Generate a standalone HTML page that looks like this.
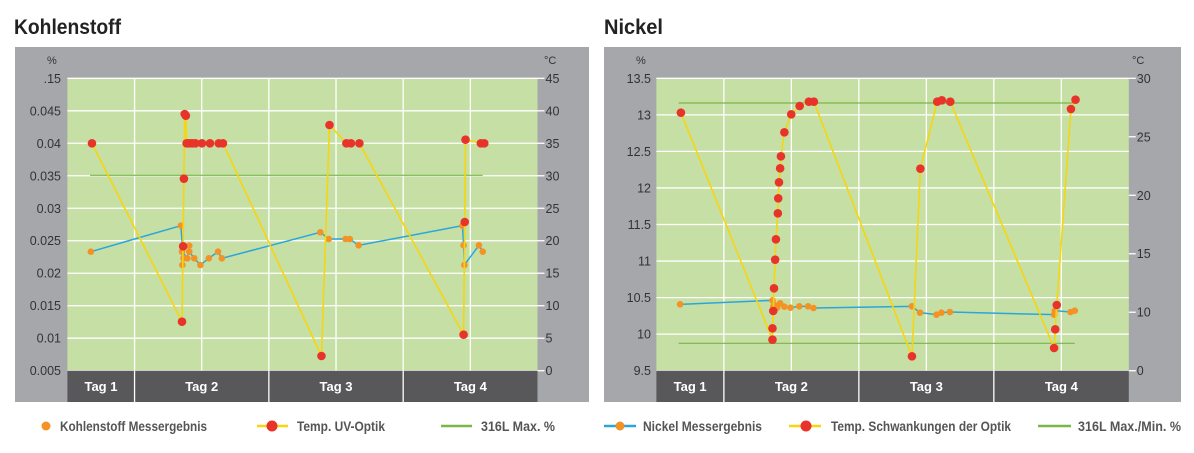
<!DOCTYPE html>
<html><head><meta charset="utf-8"><style>
html,body{margin:0;padding:0;background:#fff;width:1194px;height:453px;overflow:hidden}
svg{display:block;font-family:"Liberation Sans Narrow","Liberation Sans",sans-serif}
</style></head><body>
<svg id="s" width="1194" height="453" viewBox="0 0 1194 453" xmlns="http://www.w3.org/2000/svg">
<text x="14" y="34" font-size="21" font-weight="bold" fill="#222" textLength="107" lengthAdjust="spacingAndGlyphs">Kohlenstoff</text>
<text x="604" y="34" font-size="21" font-weight="bold" fill="#222" textLength="59" lengthAdjust="spacingAndGlyphs">Nickel</text>
</svg>
<script>
var S=document.getElementById('s'),NS='http://www.w3.org/2000/svg';
function el(t,a,txt){var e=document.createElementNS(NS,t);for(var k in a)e.setAttribute(k,a[k]);if(txt!=null)e.textContent=txt;S.appendChild(e);return e;}
function chart(o){
 var ox=o.ox,X=function(z){return ox+z/2.61},Y=function(z){return 40+z/3};
 el('rect',{x:o.gx0,y:47,width:o.gx1-o.gx0,height:355,fill:'#a6a7ab'});
 var px0=o.px0,px1=o.px1,py0=78.3,py1=370.7;
 el('rect',{x:px0,y:py0,width:px1-px0,height:py1-py0,fill:'#c6dfa5'});
 // horizontal grid
 for(var i=0;i<=o.nh;i++){var y=py0+(py1-py0)*i/o.nh;el('line',{x1:px0,x2:px1,y1:y,y2:y,stroke:'#fff','stroke-width':1.3});
  el('text',{x:o.llx,y:y+4.5,'font-size':12.5,'text-anchor':'end',fill:'#333'},o.ll[i]);}
 for(var i=0;i<o.rl.length;i++){var y=py0+(py1-py0)*i/(o.rl.length-1);el('line',{x1:px1,x2:px1+7,y1:y,y2:y,stroke:'#fff','stroke-width':1.3});
  el('text',{x:px1+8,y:y+4.5,'font-size':12.5,fill:'#333'},o.rl[i]);}
 el('text',{x:o.pctx,y:64,'font-size':11,fill:'#333'},'%');
 el('text',{x:o.degx,y:64,'font-size':11,fill:'#333'},'°C');
 // tag bar
 el('rect',{x:px0,y:py1,width:px1-px0,height:402-py1,fill:'#58585a'});
 var w=(px1-px0)/7;
 for(var j=1;j<7;j++){var x=px0+w*j;el('line',{x1:x,x2:x,y1:py0,y2:(j%2==1?402:py1),stroke:'#fff','stroke-width':1.3});}
 var cs=[px0+w*0.5,px0+w*2,px0+w*4,px0+w*6];
 for(var j=0;j<4;j++)el('text',{x:cs[j],y:391,'font-size':13,'font-weight':'bold',fill:'#fff','text-anchor':'middle'},'Tag '+(j+1));
 // green lines
 o.green.forEach(function(g){el('line',{x1:X(g[0]),x2:X(g[1]),y1:Y(g[2]),y2:Y(g[2]),stroke:'#7ab648','stroke-width':1.2});});
 // blue line
 el('polyline',{points:o.blue.map(function(p){return X(p[0])+','+Y(p[1])}).join(' '),fill:'none',stroke:'#2aa6dc','stroke-width':1.5});
 o.blue.forEach(function(p){el('circle',{cx:X(p[0]),cy:Y(p[1]),r:3.3,fill:'#f39325'})});
 el('polyline',{points:o.red.map(function(p){return X(p[0])+','+Y(p[1])}).join(' '),fill:'none',stroke:'#f7d50f','stroke-width':1.6});
 o.red.concat(o.redx||[]).forEach(function(p){el('circle',{cx:X(p[0]),cy:Y(p[1]),r:p[2]||4.3,fill:'#e8332b'})});
 // legend
 var L=o.leg;
 if(L.blue)el('line',{x1:L.blue[0],x2:L.blue[1],y1:426,y2:426,stroke:'#2aa6dc','stroke-width':2.5});
 el('circle',{cx:L.od,cy:426,r:4.5,fill:'#f39325'});
 el('line',{x1:L.yl[0],x2:L.yl[1],y1:426,y2:426,stroke:'#f7d50f','stroke-width':2.5});
 el('circle',{cx:L.rd,cy:426,r:5.5,fill:'#e8332b'});
 el('line',{x1:L.gl[0],x2:L.gl[1],y1:426,y2:426,stroke:'#7ab648','stroke-width':2.5});
 L.t.forEach(function(t){el('text',{x:t[0],y:431,'font-size':14,'font-weight':'bold',fill:'#555',textLength:t[1],lengthAdjust:'spacingAndGlyphs'},t[2]);});
}
chart({ox:0,gx0:15,gx1:589,px0:67.4,px1:537.5,nh:9,llx:61,
 ll:['.15','0.045','0.04','0.035','0.03','0.025','0.02','0.015','0.01','0.005'],
 rl:['45','40','35','30','25','20','15','10','5','0'],pctx:47,degx:544,
 green:[[235,1260,406]],
 blue:[[237,635],[472,557],[476,618],[476,675],[479,655],[475,635],[489,655],[494,617],[494,635],[507,655],[523,675],[545,655],[569,635],[579,655],[836,577],[858,597],[902,597],[913,597],[936,616],[1207,557],[1210,616],[1212,675],[1250,616],[1260,635]],
 red:[[240,310],[475,845],[480,416],[482,222],[485,227],[487,310],[492,310],[497,310],[503,310],[510,310],[527,310],[548,310],[571,310],[582,310],[839,948],[860,255],[904,310],[916,310],[938,310],[1210,884],[1213,546],[1215,299],[1255,310],[1264,310]],
 redx:[[478,619]],
 leg:{od:46,yl:[257,288],rd:272,gl:[441,472],t:[[60,147,'Kohlenstoff Messergebnis'],[297,88,'Temp. UV-Optik'],[481,74,'316L Max. %']]}
});
chart({ox:597,gx0:604,gx1:1181,px0:656.4,px1:1128.8,nh:8,llx:651,
 ll:['13.5','13','12.5','12','11.5','11','10.5','10','9.5'],
 rl:['30','25','20','15','10','0'],pctx:636,degx:1132,
 green:[[213,1247,189],[213,1247,910]],
 blue:[[217,793],[458,781],[460,800],[463,795],[470,803],[478,790],[489,800],[505,803],[528,799],[551,799],[565,804],[822,799],[843,818],[886,824],[899,818],[921,816],[1193,824],[1195,812],[1236,816],[1247,812]],
 red:[[219,218],[458,899],[458,865],[460,813],[462,745],[465,659],[467,598],[472,520],[473,475],[475,427],[478,385],[480,349],[489,277],[507,223],[529,198],[553,185],[566,185],[822,949],[844,386],[888,185],[900,181],[922,185],[1193,924],[1196,868],[1200,795],[1237,207],[1249,179]],
 leg:{blue:[604,636],od:620,yl:[789,821],rd:806,gl:[1038,1071],t:[[643,119,'Nickel Messergebnis'],[831,180,'Temp. Schwankungen der Optik'],[1078,103,'316L Max./Min. %']]}
});
</script>
</body></html>
